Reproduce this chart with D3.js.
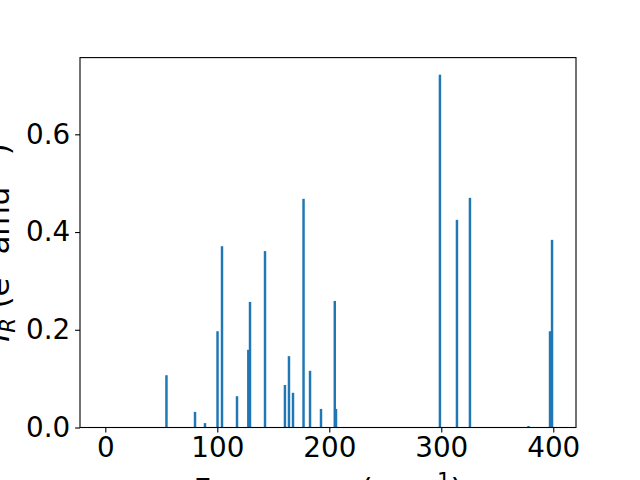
<!DOCTYPE html>
<html>
<head>
<meta charset="utf-8">
<script src="https://cdn.jsdelivr.net/npm/d3@7"></script>
<style>
    body { margin: 0; background: #fff; }
    text { font-family: "DejaVu Sans", sans-serif; fill: #000; }
</style>
</head>
<body>
<svg id="chart" width="640" height="480"></svg>
<script>
// IR spectrum: frequency (cm^-1) vs intensity
const frequencies = [54.6, 80.1, 89.0, 100.2, 104.2, 117.6, 127.7, 129.2, 142.6, 160.4, 164.0, 167.6,
    177.0, 182.8, 192.6, 204.9, 206.0, 298.8, 314.0, 325.6, 377.9, 397.1, 398.9]
const intensities = [0.107, 0.032, 0.009, 0.197, 0.371, 0.064, 0.159, 0.257, 0.361, 0.087, 0.146, 0.071,
    0.468, 0.116, 0.038, 0.259, 0.038, 0.722, 0.425, 0.470, 0.003, 0.197, 0.384]
const xTicks = [0, 100, 200, 300, 400]
const yTicks = [0.0, 0.2, 0.4, 0.6]

const barWidth = 2.2
const fontSize = 27.8
const labelSize = 30.5
const color = '#1f77b4'

const margin = { left: 80, right: 576, top: 57.6, bottom: 427.5 }

const svg = d3.select('#chart')

const x = d3.scaleLinear()
    .domain([-22.6, 420.3])
    .range([margin.left, margin.right])

const y = d3.scaleLinear()
    .domain([0, 0.757])
    .range([margin.bottom, margin.top])

let bars = frequencies.map((f, i) => ({ f: f, v: intensities[i] }))

svg.append('g')
    .selectAll('rect')
    .data(bars)
    .join('rect')
    .attr('x', d => x(d.f - barWidth / 2))
    .attr('width', d => x(d.f + barWidth / 2) - x(d.f - barWidth / 2))
    .attr('y', d => y(d.v))
    .attr('height', d => y(0) - y(d.v))
    .attr('fill', color)

// axes
const xAxis = svg.append('g')
    .attr('transform', 'translate(0,' + margin.bottom + ')')
    .call(d3.axisBottom(x).tickValues(xTicks).tickSize(4.9).tickPadding(4.9).tickFormat(d3.format('d')))

const yAxis = svg.append('g')
    .attr('transform', 'translate(' + margin.left + ',0)')
    .call(d3.axisLeft(y).tickValues(yTicks).tickSize(4.9).tickPadding(4.9).tickFormat(d3.format('.1f')))

for (let ax of [xAxis, yAxis]) {
    ax.select('.domain').remove()
    ax.selectAll('line').attr('stroke', '#000').attr('stroke-width', 1.1)
    ax.selectAll('text')
        .style('font-family', '"DejaVu Sans", sans-serif')
        .style('font-size', fontSize + 'px')
        .attr('fill', '#000')
}

// frame
svg.append('rect')
    .attr('x', margin.left)
    .attr('y', margin.top)
    .attr('width', margin.right - margin.left)
    .attr('height', margin.bottom - margin.top)
    .attr('fill', 'none')
    .attr('stroke', '#000')
    .attr('stroke-width', 1.1)

// x label (cut off at the bottom edge, like the original)
const supSize = labelSize * 0.7
const xl = svg.append('text')
    .attr('x', (margin.left + margin.right) / 2)
    .attr('y', 500)
    .attr('text-anchor', 'middle')
    .style('font-size', labelSize + 'px')
xl.append('tspan').text('Frequency (cm')
xl.append('tspan').attr('dy', -12).style('font-size', supSize + 'px').text('\u22121')
xl.append('tspan').attr('dy', 12).text(')')

// y label (mostly outside the left edge)
const yl = svg.append('text')
    .attr('transform', 'translate(9,' + (margin.top + margin.bottom) / 2 + ') rotate(-90)')
    .attr('text-anchor', 'middle')
    .style('font-size', labelSize + 'px')
yl.append('tspan').style('font-style', 'italic').text('I')
yl.append('tspan').attr('dy', 6).style('font-style', 'italic').style('font-size', supSize + 'px').text('R')
yl.append('tspan').attr('dy', -6).text(' (e')
yl.append('tspan').attr('dy', -12).style('font-size', supSize + 'px').text('2')
yl.append('tspan').attr('dy', 12).text(' amu')
yl.append('tspan').attr('dy', -12).style('font-size', supSize + 'px').text('\u22121')
yl.append('tspan').attr('dy', 12).text(')')
</script>
</body>
</html>
